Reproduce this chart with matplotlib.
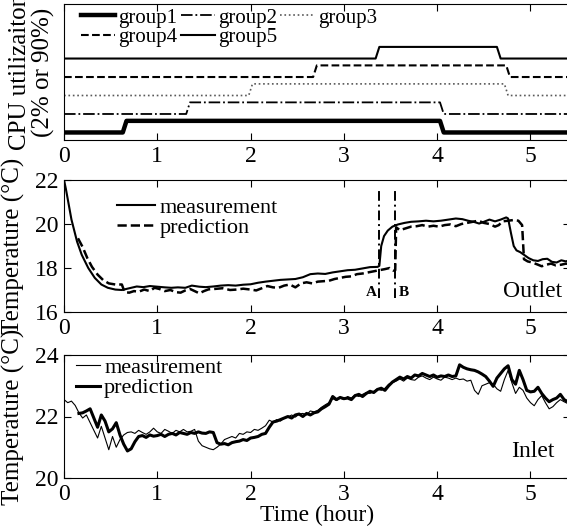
import numpy as np
import matplotlib
matplotlib.use('Agg')
import matplotlib.pyplot as plt

plt.rcParams['font.family'] = ['Liberation Serif', 'DejaVu Serif']
plt.rcParams['font.size'] = 16

# ---- CPU utilization schedule (percent), one list of switch times per group
group_names = ['group1', 'group2', 'group3', 'group4', 'group5']
cpu_times = [
    [0.0, 0.63, 0.67, 4.03, 4.07, 5.5],
    [0.0, 1.31, 1.35, 4.03, 4.07, 5.5],
    [0.0, 1.98, 2.02, 4.72, 4.76, 5.5],
    [0.0, 2.67, 2.71, 4.74, 4.78, 5.5],
    [0.0, 3.34, 3.38, 4.64, 4.68, 5.5],
]
cpu_levels = [2, 2, 90, 90, 2, 2]
group_offset = [0, 140, 280, 420, 560]

# ---- outlet temperature
out_meas_t = [0.0, 0.02, 0.05, 0.08, 0.11, 0.14, 0.19, 0.26, 0.33, 0.40, 0.47, 0.55,
              0.62, 0.70, 0.78, 0.85, 0.92, 1.0, 1.08, 1.15, 1.22, 1.30, 1.37, 1.45,
              1.52, 1.60, 1.68, 1.76, 1.84, 1.92, 2.0, 2.08, 2.16, 2.24, 2.32, 2.40,
              2.48, 2.56, 2.64, 2.72, 2.80, 2.88, 2.96, 3.04, 3.12, 3.20, 3.28, 3.36,
              3.38, 3.40, 3.43, 3.47, 3.52, 3.58, 3.65, 3.72, 3.80, 3.88, 3.96, 4.04,
              4.12, 4.20, 4.27, 4.33, 4.39, 4.45, 4.50, 4.56, 4.62, 4.68, 4.74, 4.76,
              4.79, 4.82, 4.85, 4.89, 4.93, 4.98, 5.03, 5.08, 5.13, 5.18, 5.23, 5.28,
              5.33, 5.38, 5.45]
out_meas = [22.0, 21.6, 20.9, 20.2, 19.7, 19.2, 18.6, 18.0, 17.55, 17.25, 17.1, 17.02,
            17.0, 17.08, 17.16, 17.13, 17.18, 17.15, 17.12, 17.1, 17.12, 17.1, 17.2, 17.15,
            17.13, 17.16, 17.2, 17.22, 17.2, 17.24, 17.26, 17.33, 17.38, 17.42, 17.46, 17.48,
            17.5, 17.58, 17.72, 17.75, 17.73, 17.8, 17.85, 17.9, 17.92, 17.98, 18.04, 18.05,
            18.1, 19.0, 19.45, 19.7, 19.88, 19.98, 20.05, 20.1, 20.12, 20.15, 20.12, 20.15,
            20.2, 20.25, 20.22, 20.15, 20.1, 20.02, 20.1, 20.2, 20.12, 20.2, 20.3, 20.25,
            19.6, 19.0, 18.8, 18.72, 18.6, 18.45, 18.35, 18.32, 18.4, 18.42, 18.28, 18.25,
            18.35, 18.3, 18.4]
out_pred_t = [0.15, 0.2, 0.25, 0.3, 0.36, 0.42, 0.48, 0.55, 0.62, 0.65, 0.7, 0.75,
              0.8, 0.86, 0.92, 0.97, 1.02, 1.08, 1.14, 1.2, 1.25, 1.3, 1.35, 1.4,
              1.45, 1.5, 1.55, 1.62, 1.7, 1.78, 1.85, 1.92, 2.0, 2.06, 2.12, 2.18,
              2.24, 2.3, 2.36, 2.42, 2.48, 2.54, 2.6, 2.66, 2.72, 2.78, 2.84, 2.9,
              2.96, 3.02, 3.08, 3.14, 3.2, 3.26, 3.32, 3.38, 3.44, 3.49, 3.53, 3.55,
              3.56, 3.6, 3.66, 3.72, 3.78, 3.84, 3.9, 3.96, 4.02, 4.08, 4.14, 4.2,
              4.26, 4.32, 4.38, 4.44, 4.5, 4.56, 4.62, 4.66, 4.7, 4.76, 4.82, 4.87,
              4.91, 4.93, 4.97, 5.02, 5.08, 5.12, 5.17, 5.22, 5.27, 5.33, 5.38, 5.45]
out_pred = [19.35, 18.95, 18.45, 18.05, 17.7, 17.45, 17.3, 17.25, 17.25, 16.9, 16.88, 16.95,
            16.92, 17.02, 16.95, 17.1, 17.05, 16.95, 17.0, 16.9, 16.88, 16.98, 17.05, 16.95,
            16.85, 16.95, 17.03, 17.05, 17.08, 17.0, 17.02, 17.06, 17.02, 16.98, 17.08, 17.18,
            17.12, 17.1, 17.2, 17.25, 17.12, 17.3, 17.35, 17.3, 17.38, 17.4, 17.42, 17.5,
            17.55, 17.6, 17.62, 17.72, 17.75, 17.8, 17.85, 17.9, 17.95, 18.0, 17.88, 17.9,
            19.85, 19.72, 19.8, 19.88, 19.9, 19.95, 19.88, 19.92, 19.88, 19.95, 19.98, 19.9,
            20.0, 20.05, 20.1, 20.15, 20.05, 20.0, 19.88, 19.95, 20.12, 20.15, 20.18, 20.15,
            19.95, 18.4, 18.3, 18.25, 18.15, 18.08, 18.15, 18.2, 18.12, 18.15, 18.2, 18.15]
event_t = [3.38, 3.55]
event_names = ['A', 'B']

# ---- inlet temperature (sampled every 0.04 h)
in_meas = [22.55, 22.45, 22.5, 22.36, 22.12, 21.95, 22.05, 21.8, 21.55, 21.3, 21.68, 21.3,
           20.92, 21.35, 21.0, 21.25, 21.4, 21.48, 21.5, 21.45, 21.55, 21.48, 21.42, 21.5,
           21.62, 21.5, 21.45, 21.58, 21.52, 21.45, 21.55, 21.5, 21.58, 21.5, 21.52, 21.58,
           21.2, 21.05, 21.0, 20.95, 20.92, 21.0, 21.1, 21.25, 21.3, 21.35, 21.3, 21.45,
           21.42, 21.5, 21.48, 21.58, 21.55, 21.62, 21.7, 21.88, 21.82, 21.9, 21.85, 21.95,
           21.98, 22.05, 21.98, 22.08, 22.1, 22.05, 22.18, 22.15, 22.2, 22.3, 22.38, 22.45,
           22.58, 22.52, 22.6, 22.55, 22.65, 22.6, 22.7, 22.65, 22.72, 22.78, 22.75, 22.82,
           22.9, 22.85, 22.92, 23.05, 23.1, 23.15, 23.22, 23.15, 23.25, 23.2, 23.18, 23.28,
           23.32, 23.25, 23.2, 23.28, 23.22, 23.18, 23.28, 23.25, 23.2, 23.25, 23.2, 23.22,
           23.15, 23.18, 22.85, 22.72, 23.0, 23.05, 23.1, 23.05, 22.9, 22.82, 23.2, 23.5,
           23.1, 22.75, 22.95, 22.85, 22.6, 22.45, 22.35, 22.55, 22.68, 22.45, 22.25, 22.32,
           22.45, 22.55, 22.48, 22.42, 22.45]
in_pred = [22.1, 22.12, 22.18, 22.25, 21.95, 21.65, 22.05, 21.85, 21.5, 21.6, 21.8, 21.4,
           21.1, 20.88, 20.95, 21.18, 21.35, 21.38, 21.32, 21.4, 21.36, 21.38, 21.42, 21.35,
           21.42, 21.45, 21.4, 21.48, 21.45, 21.42, 21.48, 21.45, 21.5, 21.46, 21.45, 21.5,
           21.48, 21.15, 21.1, 21.12, 21.08, 21.15, 21.18, 21.2, 21.25, 21.22, 21.3, 21.32,
           21.35, 21.42, 21.45, 21.65, 21.82, 21.85, 21.9, 21.95, 22.0, 21.95, 22.05, 22.08,
           22.0, 22.1, 22.05, 22.12, 22.15, 22.25, 22.32, 22.4, 22.65, 22.55, 22.62, 22.58,
           22.6, 22.55, 22.68, 22.72, 22.65, 22.75, 22.82, 22.78, 22.88, 22.92, 22.85, 23.0,
           23.12, 23.2, 23.28, 23.22, 23.3, 23.25, 23.35, 23.32, 23.4, 23.35, 23.3, 23.35,
           23.28, 23.32, 23.3, 23.35, 23.3, 23.32, 23.68, 23.6, 23.55, 23.52, 23.5, 23.45,
           23.38, 23.3, 23.15, 22.98, 23.25, 23.4, 23.55, 23.65, 23.2, 23.05, 23.5, 23.2,
           22.85, 22.8, 22.82, 22.95, 22.75, 22.6, 22.48, 22.55, 22.6, 22.72, 22.55, 22.48,
           22.5]
in_meas_t = np.arange(len(in_meas)) * 0.04
in_pred_t = 0.16 + np.arange(len(in_pred)) * 0.04

W, H = 567, 527
xmax = 5.42
left = 64 / W
width = xmax * 93.3 / W

fig = plt.figure(figsize=(W / 100, H / 100), dpi=100)
ax1 = fig.add_axes([left, (H - 140) / H, width, 136 / H])
ax2 = fig.add_axes([left, (H - 312) / H, width, 132 / H])
ax3 = fig.add_axes([left, (H - 478) / H, width, 123 / H])

for ax in (ax1, ax2, ax3):
    ax.set_xlim(0, xmax)
    ax.set_xticks([0, 1, 2, 3, 4, 5])
    ax.tick_params(direction='in', top=True, right=True, length=5, width=0.8,
                   labelsize=17, pad=4)

# top panel: CPU schedule
styles = [dict(ls='-', lw=3.2, color='k'),
          dict(ls='-.', lw=1.3, color='k'),
          dict(ls=':', lw=1.2, color='0.35'),
          dict(ls='--', lw=1.5, color='k'),
          dict(ls='-', lw=1.5, color='k')]
handles = []
for name, tt, off, st in zip(group_names, cpu_times, group_offset, styles):
    h, = ax1.plot(tt, [v + off for v in cpu_levels], label=name, **st)
    handles.append(h)
ax1.set_ylim(-55, 975)
ax1.set_yticks([])
ax1.tick_params(left=False, right=False)
order = [0, 3, 1, 4, 2]
ax1.legend([handles[i] for i in order], [group_names[i] for i in order], ncol=3,
           loc='upper left', bbox_to_anchor=(0.025, 1.0), frameon=False, fontsize=15,
           handlelength=1.65, handletextpad=0.15, columnspacing=0.15, labelspacing=0.0,
           borderpad=0.2, borderaxespad=0)
ax1.set_ylabel('CPU utilizaiton\n(2% or 90%)', fontsize=18, linespacing=1.05)
ax1.yaxis.set_label_coords(-0.018, 0.5)

# middle panel: outlet
ax2.plot(out_meas_t, out_meas, 'k-', lw=1.5, label='measurement')
ax2.plot(out_pred_t, out_pred, 'k--', lw=1.8, label='prediction')
for et, en in zip(event_t, event_names):
    ax2.plot([et, et], [16.65, 21.5], color='k', lw=1.4, ls=(0, (5, 2, 1, 2)))
ax2.text(event_t[0] - 0.03, 16.88, event_names[0], ha='right', va='center',
         fontsize=11, fontweight='bold')
ax2.text(event_t[1] + 0.04, 16.88, event_names[1], ha='left', va='center',
         fontsize=11, fontweight='bold')
ax2.text(5.02, 16.95, 'Outlet', ha='center', va='center', fontsize=17)
ax2.set_ylim(16, 22)
ax2.set_yticks([16, 18, 20, 22])
ax2.legend(loc='upper left', bbox_to_anchor=(0.105, 0.87), frameon=False, fontsize=16,
           handlelength=1.7, handletextpad=0.2, labelspacing=0.0, borderpad=0,
           borderaxespad=0)
ax2.set_ylabel('Temperature (°C)', fontsize=18)
ax2.yaxis.set_label_coords(-0.077, 0.5)

# bottom panel: inlet
ax3.plot(in_meas_t, in_meas, 'k-', lw=0.8, label='measurement')
ax3.plot(in_pred_t, in_pred, 'k-', lw=2.2, label='prediction')
ax3.text(5.02, 20.86, 'Inlet', ha='center', va='center', fontsize=17)
ax3.set_ylim(20, 24)
ax3.set_yticks([20, 22, 24])
ax3.legend(loc='upper left', bbox_to_anchor=(0.02, 1.0), frameon=False, fontsize=16,
           handlelength=1.05, handletextpad=0.2, labelspacing=0.0, borderpad=0.1,
           borderaxespad=0)
ax3.set_ylabel('Temperature (°C)', fontsize=18)
ax3.yaxis.set_label_coords(-0.077, 0.5)
ax3.set_xlabel('Time (hour)', fontsize=17, labelpad=0)

fig.savefig('out.png', dpi=100)
